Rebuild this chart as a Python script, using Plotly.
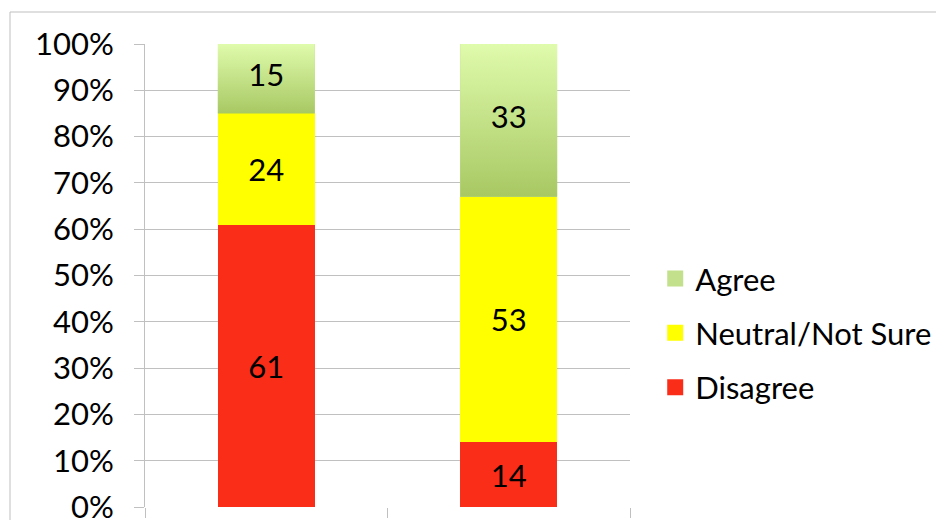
import plotly.graph_objects as go

categories = [0, 1]
disagree = [61, 14]
neutral = [24, 53]
agree = [15, 33]
series_names = ["Disagree", "Neutral/Not Sure", "Agree"]
y_ticks = list(range(0, 101, 10))
y_tick_labels = [f"{v}%" for v in y_ticks]

FONT = "Lato, Open Sans, sans-serif"
FS = 31
BAR_W = 0.4
GRID = "#C0C0C0"
COLORS = {"Disagree": "#F92D18", "Neutral/Not Sure": "#FFFF00", "Agree": "#C3E08C"}

# page body has an 8px margin, so the figure is 8px smaller and margins shifted
W, H = 936, 512
L, T = 137, 36
PW, PH = 485, 463

fig = go.Figure()
for name, vals in zip(series_names, [disagree, neutral, agree]):
    show_text = name != "Agree"
    fig.add_trace(go.Bar(x=categories, y=vals, name=name, width=BAR_W,
                         marker=dict(color=COLORS[name], line=dict(width=0)),
                         text=vals if show_text else None,
                         textposition="inside", insidetextanchor="middle",
                         textfont=dict(color="black", size=FS, family=FONT),
                         showlegend=False))

# gradient overlay for the Agree segments (built from the data)
for i, c in enumerate(categories):
    base = disagree[i] + neutral[i]
    top = base + agree[i]
    fig.add_trace(go.Scatter(
        x=[c - BAR_W / 2, c + BAR_W / 2, c + BAR_W / 2, c - BAR_W / 2, c - BAR_W / 2],
        y=[base, base, top, top, base],
        mode="lines", line=dict(width=0), fill="toself",
        fillgradient=dict(type="vertical", start=base, stop=top,
                          colorscale=[[0, "#A8C863"], [1, "#DFFBAC"]]),
        showlegend=False, hoverinfo="skip"))
    fig.add_trace(go.Scatter(x=[c], y=[base + agree[i] / 2], mode="text",
                             text=[str(agree[i])], textposition="middle center",
                             textfont=dict(color="black", size=FS, family=FONT),
                             showlegend=False, hoverinfo="skip"))

# legend entries (larger square swatches)
for rank, name in zip([3, 2, 1], series_names):
    fig.add_trace(go.Scatter(x=[None], y=[None], mode="markers", name=name,
                             marker=dict(symbol="square", size=16, color=COLORS[name],
                                         line=dict(width=0)),
                             legendrank=rank, legendgroup=name))

fig.update_layout(
    barmode="stack",
    width=W, height=H,
    margin=dict(l=L, r=W - L - PW, t=T, b=H - T - PH, autoexpand=False),
    paper_bgcolor="white", plot_bgcolor="white",
    font=dict(family=FONT, size=FS, color="black"),
    showlegend=True,
    legend=dict(x=1.052, xanchor="left", y=0.376, yanchor="middle",
                traceorder="grouped", tracegroupgap=11,
                font=dict(size=FS, family=FONT), itemwidth=30,
                bgcolor="rgba(0,0,0,0)"),
    xaxis=dict(range=[-0.5, 1.5], tickvals=[-0.5, 0.5, 1.5], ticktext=["", "", ""],
               ticks="outside", ticklen=10, tickcolor=GRID, showgrid=False,
               showline=False, zeroline=False, fixedrange=True, automargin=False),
    yaxis=dict(range=[0, 100], tickvals=y_ticks, ticktext=y_tick_labels,
               ticks="outside", ticklen=10, tickcolor=GRID,
               showgrid=True, gridcolor=GRID, gridwidth=1,
               showline=True, linecolor=GRID, linewidth=1, zeroline=False,
               ticklabelstandoff=14, ticklabeloverflow="allow",
               tickfont=dict(size=FS, family=FONT), fixedrange=True, automargin=False),
    shapes=[dict(type="rect", xref="paper", yref="paper",
                 x0=(2 - L) / PW, x1=2, y0=-1, y1=(T + PH - 4) / PH,
                 line=dict(color="#BFBFBF", width=1), fillcolor="rgba(0,0,0,0)",
                 layer="below")],
)

fig.write_html("out.html")
